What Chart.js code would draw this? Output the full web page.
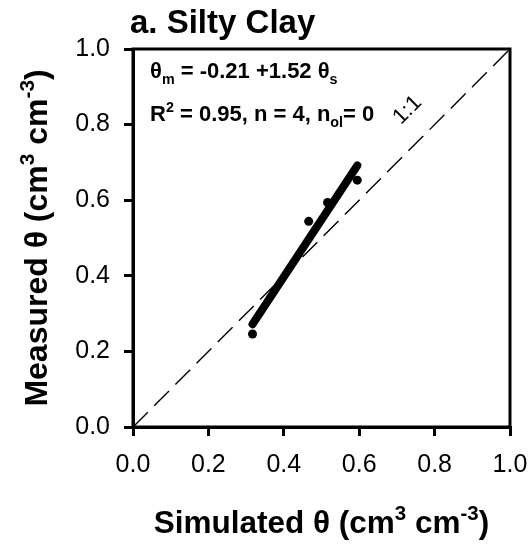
<!DOCTYPE html>
<html>
<head>
<meta charset="utf-8">
<script src="https://cdn.jsdelivr.net/npm/chart.js@4/dist/chart.umd.min.js"></script>
<style>
  html, body { margin: 0; padding: 0; background: #fff; }
  #wrap { width: 532px; height: 544px; }
</style>
</head>
<body>
<div id="wrap"><canvas id="c" width="532" height="544"></canvas></div>
<script>
  const simulated = [0.317, 0.466, 0.516, 0.595];
  const measured = [0.246, 0.544, 0.594, 0.653];
  const fitX = [0.317, 0.595];
  const fitY = [0.272, 0.692];
  const oneToOne = [0, 1];
  const tickValues = [0.0, 0.2, 0.4, 0.6, 0.8, 1.0];

  const FONT = '"Liberation Sans", Arial, Helvetica, sans-serif';

  // draw runs of text with sup / sub parts, starting at (0,0) in current transform
  function drawRuns(ctx, runs, size, bold) {
    let x = 0;
    runs.forEach(r => {
      const s = r.sup || r.sub ? size * 0.65 : size;
      ctx.font = (bold ? "bold " : "") + s + "px " + FONT;
      const dy = r.sup ? -size * 0.42 : r.sub ? size * 0.25 : 0;
      ctx.fillText(r.t, x, dy);
      x += ctx.measureText(r.t).width;
    });
    return x;
  }
  function runsWidth(ctx, runs, size, bold) {
    let w = 0;
    runs.forEach(r => {
      const s = r.sup || r.sub ? size * 0.65 : size;
      ctx.font = (bold ? "bold " : "") + s + "px " + FONT;
      w += ctx.measureText(r.t).width;
    });
    return w;
  }

  const unitRuns = [{ t: " (cm" }, { t: "3", sup: true }, { t: " cm" }, { t: "-3", sup: true }, { t: ")" }];

  const decorations = {
    id: "decorations",
    afterDraw(chart) {
      const { ctx, chartArea: a, scales } = chart;
      ctx.save();
      ctx.fillStyle = "#000";
      ctx.strokeStyle = "#000";
      ctx.textBaseline = "alphabetic";
      ctx.lineWidth = 3;
      ctx.strokeRect(a.left, a.top, a.right - a.left, a.bottom - a.top);

      // panel title
      ctx.font = "bold 33px " + FONT;
      ctx.textAlign = "left";
      ctx.fillText("a. Silty Clay", a.left - 3, a.top - 16);

      // axis titles
      const xRuns = [{ t: "Simulated \u03b8" }].concat(unitRuns);
      const xw = runsWidth(ctx, xRuns, 31.5, true);
      ctx.save();
      ctx.translate((a.left + a.right) / 2 - xw / 2, 533);
      drawRuns(ctx, xRuns, 31.5, true);
      ctx.restore();

      const yRuns = [{ t: "Measured \u03b8" }].concat(unitRuns);
      const yw = runsWidth(ctx, yRuns, 32, true);
      ctx.save();
      ctx.translate(47, (a.top + a.bottom) / 2 + yw / 2);
      ctx.rotate(-Math.PI / 2);
      drawRuns(ctx, yRuns, 32, true);
      ctx.restore();

      // regression annotation
      ctx.save();
      ctx.translate(a.left + 17, a.top + 29);
      drawRuns(ctx, [{ t: "\u03b8" }, { t: "m", sub: true }, { t: " = -0.21 +1.52 \u03b8" }, { t: "s", sub: true }], 22, true);
      ctx.restore();
      ctx.save();
      ctx.translate(a.left + 17, a.top + 72);
      drawRuns(ctx, [{ t: "R" }, { t: "2", sup: true }, { t: " = 0.95, n = 4, n" }, { t: "ol", sub: true }, { t: "= 0" }], 22, true);
      ctx.restore();

      // 1:1 label
      ctx.save();
      ctx.translate(scales.x.getPixelForValue(0.728), scales.y.getPixelForValue(0.838));
      ctx.rotate(-Math.PI / 4);
      ctx.font = "22px " + FONT;
      ctx.textAlign = "center";
      ctx.textBaseline = "middle";
      ctx.fillText("1:1", 0, 0);
      ctx.restore();
      ctx.restore();
    }
  };

  const axisCommon = {
    type: "linear",
    min: 0,
    max: 1,
    afterBuildTicks(scale) { scale.ticks = tickValues.map(v => ({ value: v })); },
    ticks: {
      color: "#000",
      font: { family: FONT, size: 25 },
      padding: 14,
      callback: v => v.toFixed(1)
    },
    grid: { drawOnChartArea: false, drawTicks: true, tickLength: 9, lineWidth: 3, color: "#000" },
    border: { display: true, width: 3, color: "#000" }
  };

  new Chart(document.getElementById("c"), {
    type: "scatter",
    data: {
      datasets: [
        {
          label: "1:1",
          type: "line",
          data: oneToOne.map(v => ({ x: v, y: v })),
          borderColor: "#000",
          borderWidth: 1.4,
          borderDash: [21, 9],
          pointRadius: 0,
          fill: false
        },
        {
          label: "fit",
          type: "line",
          data: fitX.map((v, i) => ({ x: v, y: fitY[i] })),
          borderColor: "#000",
          borderWidth: 8,
          borderCapStyle: "round",
          pointRadius: 0,
          fill: false
        },
        {
          label: "observed",
          data: simulated.map((v, i) => ({ x: v, y: measured[i] })),
          backgroundColor: "#000",
          borderColor: "#000",
          pointRadius: 4.5,
          pointBorderWidth: 0
        }
      ]
    },
    options: {
      responsive: false,
      animation: false,
      layout: { padding: { top: 49, right: 22, left: 0, bottom: 0 } },
      plugins: { legend: { display: false }, tooltip: { enabled: false } },
      scales: {
        x: Object.assign({}, axisCommon, {
          position: "bottom",
          afterFit(scale) { scale.height = 117; scale.paddingLeft = 0; scale.paddingRight = 0; }
        }),
        y: Object.assign({}, axisCommon, {
          position: "left",
          afterFit(scale) { scale.width = 133; scale.paddingTop = 0; scale.paddingBottom = 0; }
        })
      }
    },
    plugins: [decorations]
  });
</script>
</body>
</html>
